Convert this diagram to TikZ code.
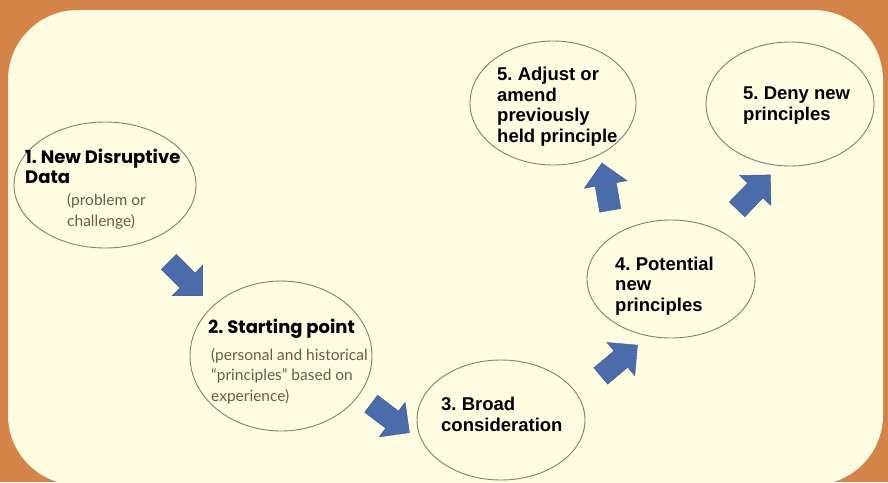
\documentclass[tikz,border=0pt]{standalone}
\usepackage{fontspec}
\setmainfont{Liberation Sans}
\newfontfamily\headfont{Poppins}
\newfontfamily\notefont{Lato}
\usetikzlibrary{shapes.geometric,shapes.arrows}

\definecolor{frameorange}{RGB}{212,132,72}
\definecolor{panelcream}{RGB}{254,252,225}
\definecolor{ringgray}{RGB}{135,125,118}
\definecolor{flowblue}{RGB}{74,108,170}
\definecolor{notebrown}{RGB}{105,92,78}

\tikzset{
  stage/.style={ellipse, draw=ringgray, line width=0.9pt, fill=panelcream, inner sep=0pt},
  heading/.style={anchor=base west, align=left, inner sep=0pt,
    font=\bfseries\fontsize{18.5}{20.5}\selectfont},
  bigheading/.style={heading, font=\headfont\bfseries\fontsize{18}{20}\selectfont},
  note/.style={anchor=base west, align=left, inner sep=0pt, text=notebrown,
    font=\notefont\fontsize{15.5}{20.5}\selectfont},
  flow/.style={single arrow, fill=flowblue, draw=flowblue!85!black, line width=0.4pt,
    minimum height=48pt, inner xsep=0pt, inner ysep=10.5pt,
    single arrow head extend=11pt, single arrow tip angle=90}
}

\begin{document}
\frenchspacing
\begin{tikzpicture}[x=1pt, y=-1pt]
	% Background and panel
	\fill[frameorange] (0,0) rectangle (888,482);
	\useasboundingbox (0,0) rectangle (888,482);
	\fill[panelcream, rounded corners=70pt] (8,10) rectangle (883,485);

	% Draw the stages
	\node[stage, minimum width=182pt, minimum height=126pt] (data)   at (105,185) {};
	\node[stage, minimum width=182pt, minimum height=150pt] (start)  at (281,356) {};
	\node[stage, minimum width=168pt, minimum height=120pt] (broad)  at (501,420) {};
	\node[stage, minimum width=168pt, minimum height=118pt] (potent) at (671,279) {};
	\node[stage, minimum width=166pt, minimum height=124pt] (adjust) at (553,103) {};
	\node[stage, minimum width=168pt, minimum height=124pt] (deny)   at (790,104) {};

	% Texts of the stages (anchored at the baseline of the last line)
	\node[bigheading] (data-t)   at (25,183)  {1. New Disruptive\\Data};
	\node[note]       (data-n)   at (67,226)  {(problem or\\challenge)};
	\node[bigheading] (start-t)  at (208,333) {2. Starting point};
	\node[note]       (start-n)  at (211,401) {(personal and historical\\“principles” based on\\experience)};
	\node[heading]    (broad-t)  at (441,431) {3. Broad\\consideration};
	\node[heading]    (potent-t) at (615,311) {4. Potential\\new\\principles};
	\node[heading]    (adjust-t) at (497,142) {5. Adjust or\\amend\\previously\\held principle};
	\node[heading]    (deny-t)   at (743,120) {5. Deny new\\principles};

	% Block arrows between the stages
	\node[flow, rotate=-45] (go12) at (182,275) {};
	\node[flow, rotate=-37] (go23) at (386,415) {};
	\node[flow, rotate=40]  (go34) at (615,364) {};
	\node[flow, rotate=100] (go4a) at (607,192) {};
	\node[flow, rotate=46]  (go4d) at (750,196) {};
\end{tikzpicture}
\end{document}
